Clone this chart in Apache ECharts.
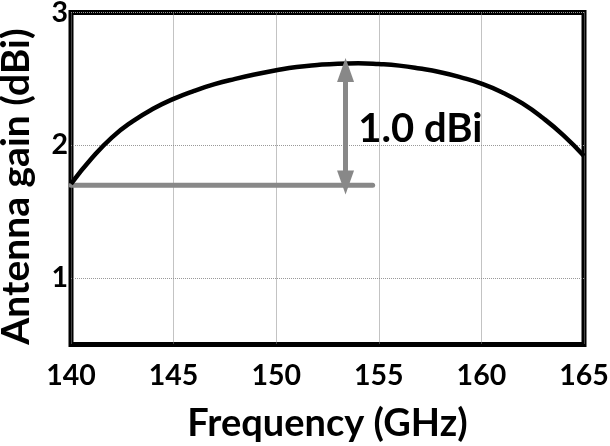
<!DOCTYPE html>
<html>
<head>
<meta charset="utf-8">
<script src="https://cdn.jsdelivr.net/npm/echarts@6/dist/echarts.min.js"></script>
<style>
  html, body { margin: 0; padding: 0; background: #fff; }
  #chart { width: 610px; height: 446px; }
</style>
</head>
<body>
<div id="chart"></div>
<script>
// antenna gain vs frequency
var freq = [140, 141, 142, 143, 144, 145, 146, 147, 148, 149, 150, 151, 152,
            153, 154, 155, 156, 157, 158, 159, 160, 161, 162, 163, 164, 165];
var gain = [1.71, 1.90, 2.06, 2.18, 2.275, 2.35, 2.41, 2.46, 2.50, 2.535, 2.565, 2.59, 2.605,
            2.615, 2.618, 2.612, 2.60, 2.578, 2.55, 2.512, 2.465, 2.40, 2.315, 2.205, 2.075, 1.92];

// gray reference level and the arrow
var refFreq = [140, 154.7];
var refGain = [1.7, 1.7];
var arrowFreq = 153.38;
var arrowFrom = 1.72;
var arrowTo = 2.567;
var noteText = '1.0 dBi';
var notePos = [154.0, 2.12];

var xTicks = [140, 145, 150, 155, 160, 165];
var yTicks = [1, 2, 3];

var font = 'Lato';
var gray = '#888888';

var chart = echarts.init(document.getElementById('chart'));

chart.setOption({
  animation: false,
  grid: {
    left: 71, right: 26, top: 12.5, bottom: 101.5,
    outerBoundsMode: 'none', containLabel: false,
    show: true, borderColor: '#000', borderWidth: 5, backgroundColor: 'transparent'
  },
  xAxis: {
    type: 'value',
    min: xTicks[0], max: xTicks[xTicks.length - 1], interval: 5,
    name: 'Frequency (GHz)', nameLocation: 'middle', nameGap: 60,
    nameTextStyle: { fontFamily: font, fontWeight: 'bold', fontSize: 38, color: '#000' },
    axisLine: { show: false },
    axisTick: { show: false },
    axisLabel: { fontFamily: font, fontWeight: 'bold', fontSize: 28.5, color: '#000', margin: 17 },
    splitLine: { show: true, lineStyle: { color: '#888', width: 1, type: 'dotted' } }
  },
  yAxis: {
    type: 'value',
    min: 0.5, max: 3,
    name: 'Antenna gain (dBi)', nameLocation: 'middle', nameGap: 35,
    nameTextStyle: { fontFamily: font, fontWeight: 'bold', fontSize: 39, color: '#000',
                     padding: [0, 16, 0, 0] },
    axisLine: { show: false },
    axisTick: { show: false, customValues: yTicks },
    axisLabel: { customValues: yTicks, fontFamily: font, fontWeight: 'bold', fontSize: 28.5,
                 color: '#000', margin: 3, padding: [12, 0, 0, 0] },
    splitLine: { show: true, lineStyle: { color: '#999', width: 1, type: 'dotted' } }
  },
  series: [
    {
      type: 'line',
      data: refFreq.map(function (f, i) { return [f, refGain[i]]; }),
      symbol: 'none',
      lineStyle: { color: gray, width: 5, cap: 'round' },
      z: 2,
      markLine: {
        silent: true,
        symbol: ['triangle', 'triangle'],
        symbolSize: [17, 24],
        lineStyle: { color: gray, width: 5, type: 'solid' },
        label: { show: false },
        data: [[{ coord: [arrowFreq, arrowFrom] }, { coord: [arrowFreq, arrowTo] }]]
      },
      markPoint: {
        silent: true,
        symbol: 'circle', symbolSize: 0,
        label: {
          show: true, position: 'right', distance: 0,
          formatter: noteText,
          fontFamily: font, fontWeight: 'bold', fontSize: 40, color: '#000'
        },
        data: [{ coord: notePos }]
      }
    },
    {
      type: 'line',
      data: freq.map(function (f, i) { return [f, gain[i]]; }),
      smooth: true,
      symbol: 'none',
      lineStyle: { color: '#000', width: 4.5 },
      z: 3
    }
  ]
});
</script>
</body>
</html>
